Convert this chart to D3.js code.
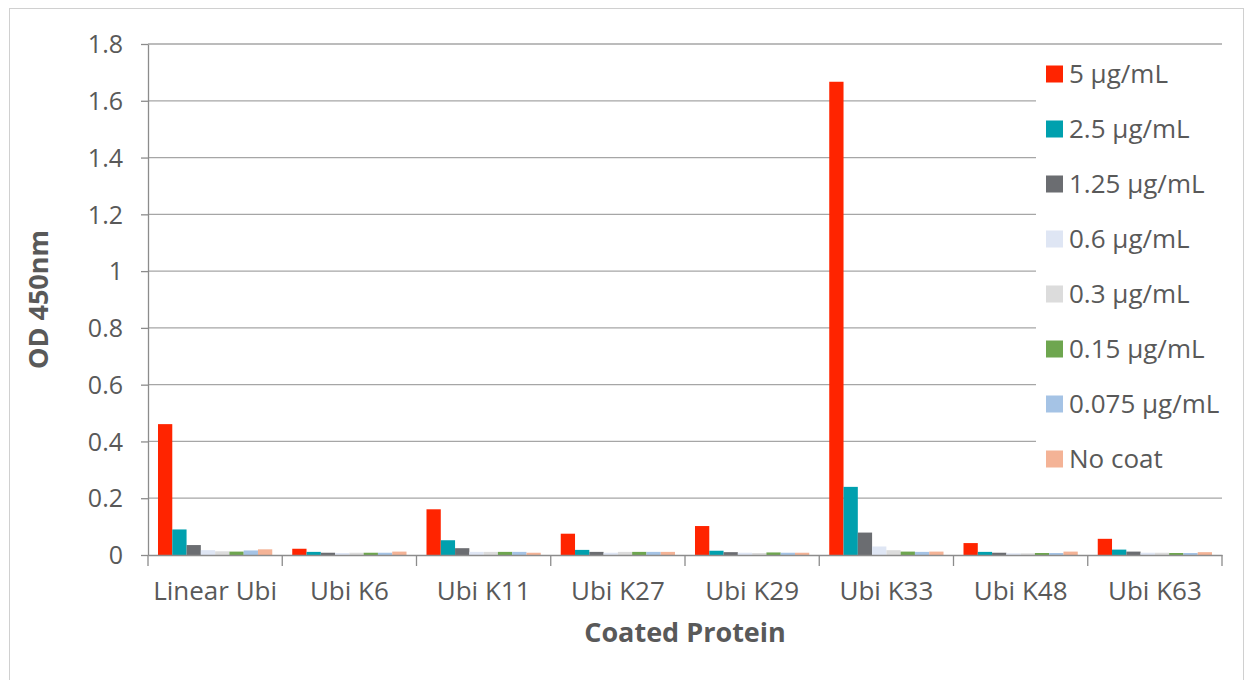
<!DOCTYPE html>
<html><head><meta charset="utf-8">
<script src="https://cdn.jsdelivr.net/npm/d3@7"></script>
<style>
body{margin:0;background:#fff;}
text{font-family:"Open Sans",sans-serif;fill:#595959;}
</style></head>
<body><svg id="c" width="1246" height="680"></svg>
<script>
const categories = ["Linear Ubi","Ubi K6","Ubi K11","Ubi K27","Ubi K29","Ubi K33","Ubi K48","Ubi K63"];
const seriesNames = ["5 µg/mL","2.5 µg/mL","1.25 µg/mL","0.6 µg/mL","0.3 µg/mL","0.15 µg/mL","0.075 µg/mL","No coat"];
const seriesColors = ["#ff2400","#00a0ae","#6b6d71","#dfe6f4","#dcdcdc","#6ea64f","#a5c3e5","#f4b396"];
const s5     = [0.461,0.022,0.161,0.075,0.102,1.667,0.042,0.057];
const s2_5   = [0.090,0.011,0.052,0.018,0.015,0.240,0.011,0.019];
const s1_25  = [0.035,0.008,0.024,0.011,0.010,0.079,0.008,0.012];
const s0_6   = [0.017,0.007,0.011,0.008,0.008,0.030,0.006,0.008];
const s0_3   = [0.013,0.008,0.011,0.011,0.007,0.017,0.006,0.008];
const s0_15  = [0.012,0.008,0.011,0.011,0.009,0.012,0.007,0.007];
const s0_075 = [0.016,0.008,0.011,0.011,0.008,0.011,0.007,0.007];
const sNone  = [0.020,0.012,0.008,0.011,0.008,0.012,0.012,0.010];
const series = [s5,s2_5,s1_25,s0_6,s0_3,s0_15,s0_075,sNone];
const yTicks = [0,0.2,0.4,0.6,0.8,1,1.2,1.4,1.6,1.8];

const svg = d3.select("#c");
svg.append("rect").attr("x",9.5).attr("y",8.5).attr("width",1234).attr("height",680).attr("fill","#fff").attr("stroke","#d0d0d0");

const pL=148, pR=1222, pT=44, pB=555;
const x = d3.scaleBand().domain(categories).range([pL,pR]).paddingInner(0).paddingOuter(0);
const xi = d3.scaleBand().domain(d3.range(series.length)).range([0,x.bandwidth()]).paddingInner(0).paddingOuter(0.7);
const y = d3.scaleLinear().domain([0,1.8]).range([pB,pT]);

// gridlines
svg.append("g").selectAll("line").data(yTicks.filter(d=>d>0)).join("line")
  .attr("x1",pL).attr("x2",pR).attr("y1",d=>y(d)).attr("y2",d=>y(d))
  .attr("stroke","#a6a6a6").attr("stroke-width",1.3);

// bars
const g = svg.append("g");
categories.forEach((c,ci)=>{
  series.forEach((s,si)=>{
    g.append("rect").attr("x",x(c)+xi(si)).attr("width",xi.bandwidth())
      .attr("y",y(s[ci])).attr("height",y(0)-y(s[ci])).attr("fill",seriesColors[si]);
  });
});

// y axis
const ya = svg.append("g").attr("transform",`translate(${pL},0)`)
  .call(d3.axisLeft(y).tickValues(yTicks).tickFormat(d3.format("~g")).tickSize(7).tickSizeOuter(0));
ya.select(".domain").attr("stroke","#8c8c8c").attr("stroke-width",1.3);
ya.selectAll(".tick line").attr("stroke","#8c8c8c").attr("stroke-width",1.3);
ya.selectAll(".tick text").attr("font-size",25).attr("font-family","Open Sans").attr("fill","#595959").attr("x",-25).attr("dy","0.35em");

// x axis
const xa = svg.append("g").attr("transform",`translate(0,${pB})`)
  .call(d3.axisBottom(x).tickSize(0).tickSizeOuter(0));
xa.select(".domain").attr("stroke","#8c8c8c").attr("stroke-width",1.3);
xa.selectAll(".tick text").attr("font-size",26).attr("font-family","Open Sans").attr("fill","#595959").attr("dy",0).attr("y",45);
const bounds = categories.map(c=>x(c)).concat([pR]);
xa.selectAll(".sep").data(bounds).join("line").attr("class","sep")
  .attr("x1",d=>d).attr("x2",d=>d).attr("y1",0).attr("y2",11).attr("stroke","#8c8c8c").attr("stroke-width",1.3);

// titles
svg.append("text").attr("x",(pL+pR)/2).attr("y",642).attr("text-anchor","middle")
  .attr("font-size",27).attr("font-weight","bold").text("Coated Protein");
svg.append("text").attr("transform",`translate(48,${(pT+pB)/2}) rotate(-90)`).attr("text-anchor","middle")
  .attr("font-size",27).attr("font-weight","bold").text("OD 450nm");

// legend
const lg = svg.append("g");
lg.append("rect").attr("x",1036).attr("y",52).attr("width",186).attr("height",430).attr("fill","#fff");
seriesNames.forEach((n,i)=>{
  const cy = 74 + i*55;
  lg.append("rect").attr("x",1046).attr("y",cy-8.5).attr("width",17).attr("height",17).attr("fill",seriesColors[i]);
  lg.append("text").attr("x",1069).attr("y",cy+9).attr("font-size",26).text(n);
});
</script></body></html>
